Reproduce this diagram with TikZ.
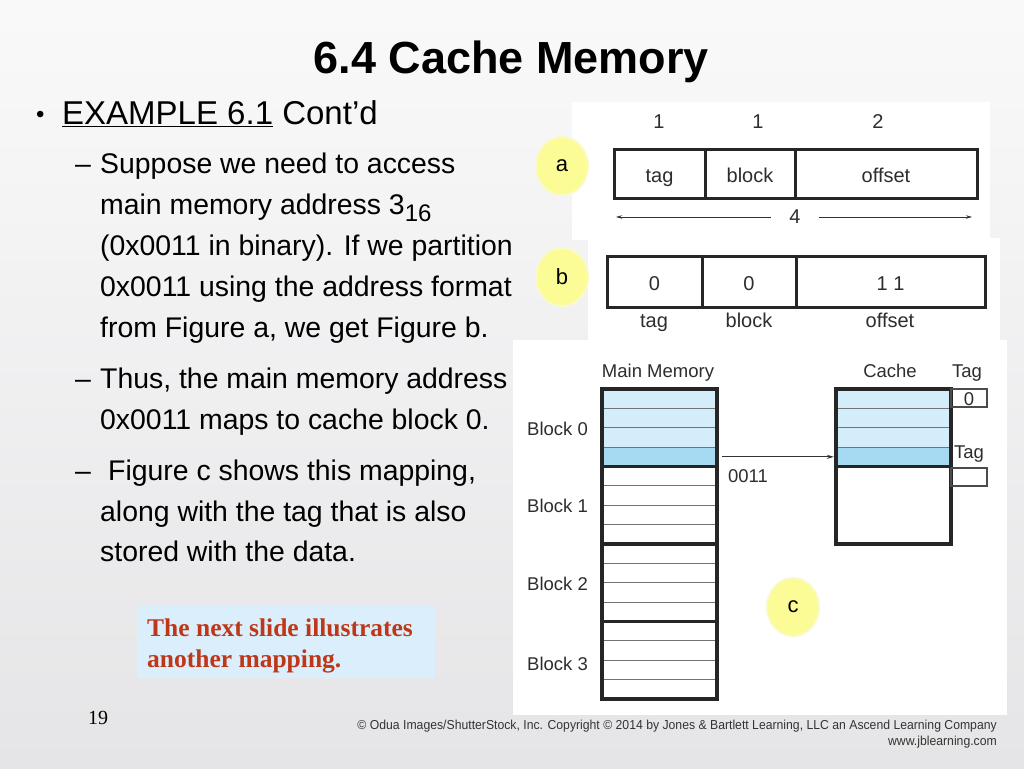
\documentclass[tikz,border=0pt]{standalone}
\usepackage{fontspec}
\setmainfont{Liberation Sans}
\newfontfamily\serifb{Liberation Serif}
\newfontfamily\footfont[FakeStretch=0.94]{Liberation Sans}
\usetikzlibrary{arrows.meta,shapes.geometric}
\definecolor{bgc}{RGB}{241,241,243}
\definecolor{lblue}{RGB}{212,237,250}
\definecolor{dblue}{RGB}{166,218,243}
\definecolor{ylw}{RGB}{252,252,150}
\definecolor{ylwsoft}{RGB}{250,250,200}
\definecolor{notebg}{RGB}{218,238,251}
\definecolor{notered}{RGB}{190,55,25}
\definecolor{figtxt}{RGB}{45,45,45}
\tikzset{
  body/.style={anchor=base west, inner sep=0pt, font=\fontsize{28.4}{34}\selectfont},
  figab/.style={inner sep=0pt, font=\fontsize{20}{24}\selectfont, text=figtxt, text height=18pt, text depth=0pt},
  figc/.style={inner sep=0pt, font=\fontsize{18.5}{22}\selectfont, text=figtxt, text height=16.6pt, text depth=0pt},
  field/.style={draw=black!85, line width=3pt, inner sep=0pt, font=\fontsize{20}{24}\selectfont, text=figtxt, text height=18pt, text depth=0pt},
  thickl/.style={draw=black!85, line width=3.2pt},
  thinl/.style={draw=black!55, line width=0.9pt},
  tagbox/.style={draw=black!70, line width=1.1pt, inner sep=0pt, minimum width=36pt, minimum height=18pt, font=\fontsize{18.5}{22}\selectfont, text=figtxt, text height=14.8pt, text depth=0pt},
  rowcell/.style={inner sep=0pt, minimum width=115pt, minimum height=19.375pt},
  marker/.style={ellipse, fill=ylw, inner sep=0pt, minimum width=50pt, minimum height=56pt, font=\fontsize{22}{26}\selectfont},
  markerglow/.style={ellipse, fill=ylwsoft, inner sep=0pt, minimum width=54pt, minimum height=60pt},
  dimarrow/.style={draw=black!80, line width=0.7pt, -{Stealth[length=6pt,width=3.5pt]}},
  maparrow/.style={draw=black!80, line width=0.8pt, -{Stealth[length=7pt,width=4pt]}}
}
\begin{document}
\begin{tikzpicture}[x=1pt,y=-1pt]
\useasboundingbox (0,0) rectangle (1024,768);
% background
\shade[top color=white!60!bgc, bottom color=bgc!95!black] (0,0) rectangle (1024,768);
% title
\node[anchor=base, inner sep=0pt, font=\fontsize{45}{54}\bfseries\selectfont] (title) at (511.5,74) {6.4 Cache Memory};
% main bullet
\node[anchor=base west, inner sep=0pt, font=\fontsize{24}{30}\selectfont] (bul) at (36,122) {\textbullet};
\node[anchor=base west, inner sep=0pt, font=\fontsize{33}{40}\selectfont] (ex) at (62,124) {\underline{EXAMPLE 6.1} Cont'd};
% sub bullets
\node[body] (d1) at (75,173) {–};
\node[body] (l1) at (100,173) {Suppose we need to access};
\node[body] (l2) at (100,214) {main memory address 3\raisebox{-0.28em}{\fontsize{24}{28}\selectfont 16}};
\node[body] (l3) at (100,255) {(0x0011 in binary). If we partition};
\node[body] (l4) at (100,296) {0x0011 using the address format};
\node[body] (l5) at (100,337) {from Figure a, we get Figure b.};
\node[body] (d2) at (75,388) {–};
\node[body] (l6) at (100,388) {Thus, the main memory address};
\node[body] (l7) at (100,429) {0x0011 maps to cache block 0.};
\node[body] (d3) at (75,480) {–};
\node[body] (l8) at (108,480) {Figure c shows this mapping,};
\node[body] (l9) at (100,521) {along with the tag that is also};
\node[body] (l10) at (100,561) {stored with the data.};
% note box
\node[fill=notebg, minimum width=298pt, minimum height=72pt, inner sep=0pt] (note) at (286,642) {};
\node[anchor=base west, inner sep=0pt, text=notered, font=\serifb\fontsize{25.5}{30}\bfseries\selectfont] (n1) at (147,636) {The next slide illustrates};
\node[anchor=base west, inner sep=0pt, text=notered, font=\serifb\fontsize{25.5}{30}\bfseries\selectfont] (n2) at (147,667) {another mapping.};
% page number and footer
\node[anchor=base west, inner sep=0pt, font=\serifb\fontsize{20}{24}\selectfont] (pg) at (88,724) {19};
\node[anchor=base east, inner sep=0pt, text=black!80, font=\footfont\fontsize{13}{15}\selectfont] (f1) at (997,729) {© Odua Images/ShutterStock, Inc. Copyright © 2014 by Jones \& Bartlett Learning, LLC an Ascend Learning Company};
\node[anchor=base east, inner sep=0pt, text=black!80, font=\footfont\fontsize{13}{15}\selectfont] (f2) at (997,745) {www.jblearning.com};
% white panels
\fill[white] (572,102) rectangle (990,240);
\fill[white] (588,238) rectangle (1000,342);
\fill[white] (513,340) rectangle (1007,715);
% figure a
\node[figab] (a1) at (659,119) {1};
\node[figab] (a2) at (758,119) {1};
\node[figab] (a3) at (878,119) {2};
\node[field, minimum width=91pt, minimum height=49pt] (atag) at (659.5,173.5) {tag};
\node[field, minimum width=90pt, minimum height=49pt] (ablock) at (750,173.5) {block};
\node[field, minimum width=182pt, minimum height=49pt] (aoff) at (886,173.5) {offset};
\node[figab, minimum width=48pt, text height=12pt] (a4) at (795,217) {4};
\coordinate (aL) at (616,217);
\coordinate (aR) at (972,217);
\draw[dimarrow] (a4.west) -- (aL);
\draw[dimarrow] (a4.east) -- (aR);
% figure b
\node[field, minimum width=95pt, minimum height=51pt] (btag) at (654.5,281.5) {0};
\node[field, minimum width=94pt, minimum height=51pt] (bblock) at (749,281.5) {0};
\node[field, minimum width=189pt, minimum height=51pt] (boff) at (890.5,281.5) {1 1};
\node[figab] (bl1) at (654,318) {tag};
\node[figab] (bl2) at (749,318) {block};
\node[figab] (bl3) at (890,318) {offset};
% figure c labels
\node[figc] (mmlab) at (658,369) {Main Memory};
\node[figc] (clab) at (890,369) {Cache};
\node[figc] (tlab1) at (967,369) {Tag};
\node[figc] (tlab2) at (969,450) {Tag};
\node[figc, anchor=west] (bk0) at (527,427) {Block 0};
\node[figc, anchor=west] (bk1) at (527,504) {Block 1};
\node[figc, anchor=west] (bk2) at (527,582) {Block 2};
\node[figc, anchor=west] (bk3) at (527,662) {Block 3};
% main memory fills
\fill[lblue] (602,389) rectangle (717,447.125);
\node[rowcell, fill=dblue] (mmr3) at (659.5,456.8) {};
% cache fills
\fill[lblue] (836,389) rectangle (951,447.125);
\node[rowcell, fill=dblue] (cr3) at (893.5,456.8) {};
% main memory thin lines
\foreach \y in {408.375,427.75,447.125,485.875,505.25,524.625,563.375,582.75,602.125,640.875,660.25,679.625}
  \draw[thinl] (602,\y) -- (717,\y);
% cache thin lines
\foreach \y in {408.375,427.75,447.125}
  \draw[thinl] (836,\y) -- (951,\y);
% thick lines
\draw[thickl] (602,389) rectangle (717,699);
\foreach \y in {466.5,544,621.5}
  \draw[thickl] (602,\y) -- (717,\y);
\draw[thickl] (836,389) rectangle (951,544);
\draw[thickl] (836,466.5) -- (951,466.5);
% tag boxes
\node[tagbox] (tg0) at (969,398) {0};
\node[tagbox] (tg1) at (969,477) {};
% mapping arrow
\draw[maparrow] ([xshift=5pt]mmr3.east) -- ([xshift=-2pt]cr3.west);
\node[figc] (addr) at (748,474) {0011};
% markers
\node[markerglow] (ga) at (562,166) {};
\node[marker] (ma) at (562,166) {a};
\node[markerglow] (gb) at (562,277) {};
\node[marker] (mb) at (562,277) {b};
\node[markerglow] (gc) at (793,607) {};
\node[marker] (mc) at (793,607) {c};
\end{tikzpicture}
\end{document}
